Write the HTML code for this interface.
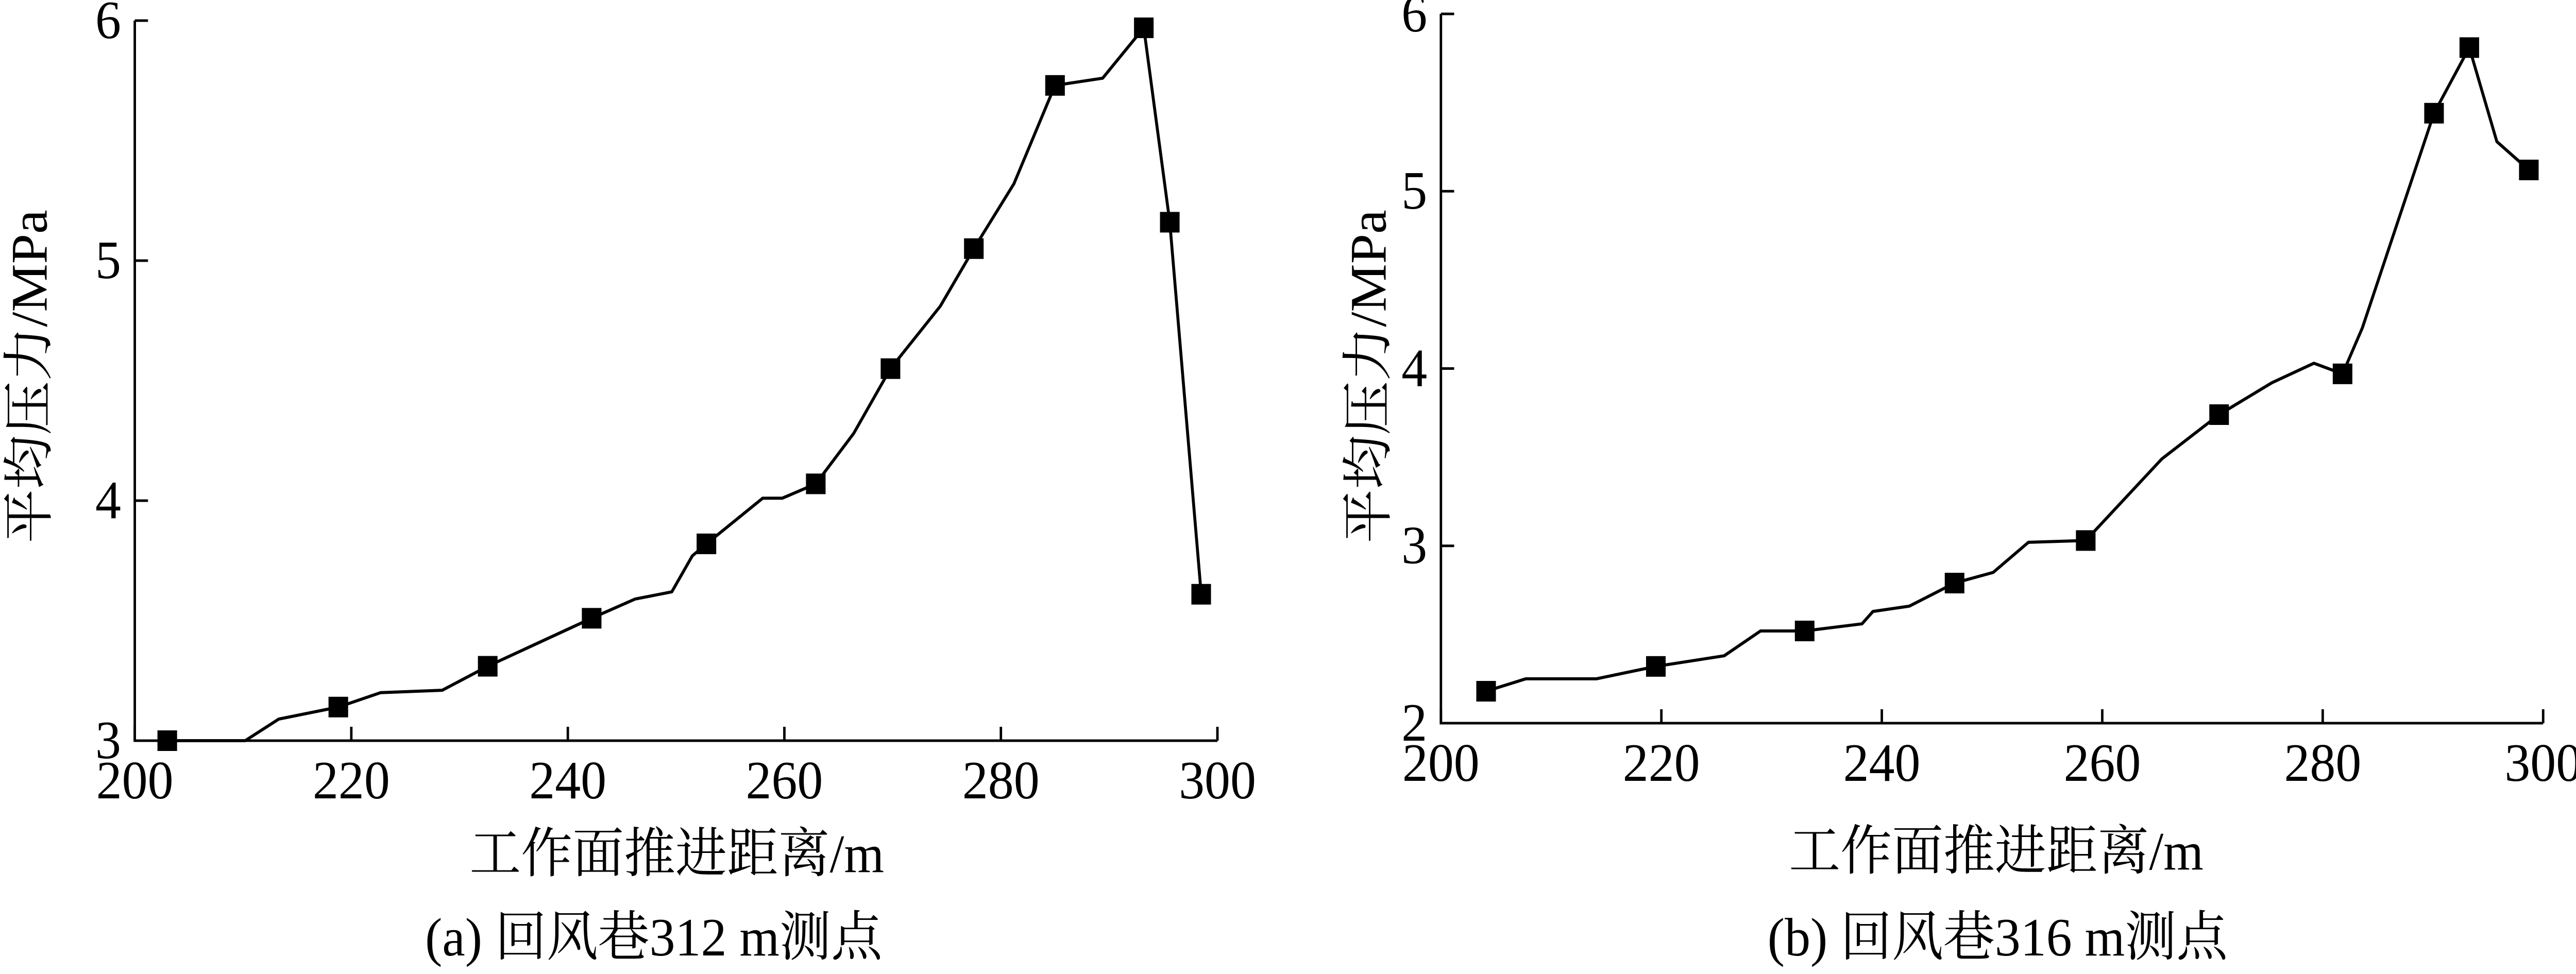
<!DOCTYPE html>
<html><head><meta charset="utf-8"><style>
html,body{margin:0;padding:0;background:#fff;overflow:hidden;width:100%;height:100%;}
svg{display:block;width:100vw;height:100vh;}
text{font-family:"Liberation Serif","Noto Serif CJK SC","Noto Sans CJK SC",serif;fill:#000;}
</style></head><body>
<svg id="chart" viewBox="0 0 5256 1891" preserveAspectRatio="none" xmlns="http://www.w3.org/2000/svg"></svg>
<script>
const xTicks = [200,220,240,260,280,300];
const yTicksA = [3,4,5,6];
const yTicksB = [2,3,4,5,6];
const xA = [203.0,210.2,213.3,218.8,222.7,228.4,232.6,242.2,246.2,249.6,251.5,252.8,258.0,259.8,262.9,266.4,269.8,274.4,277.5,281.2,285.0,289.4,293.2,295.6,298.5];
const yA = [3.0,3.0,3.09,3.14,3.20,3.21,3.31,3.51,3.59,3.62,3.77,3.82,4.01,4.01,4.07,4.28,4.55,4.81,5.05,5.32,5.73,5.76,5.97,5.16,3.61];
const mA = [1,0,0,1,0,0,1,1,0,0,0,1,0,0,1,0,1,0,1,0,1,0,1,1,1];
const xB = [204.1,207.7,214.1,219.5,225.7,229.0,233.0,238.2,239.2,242.5,246.6,250.1,253.3,258.5,265.4,270.6,275.4,279.2,281.8,283.6,290.1,293.3,295.8,298.7];
const yB = [2.18,2.25,2.25,2.32,2.38,2.52,2.52,2.56,2.63,2.66,2.79,2.85,3.02,3.03,3.49,3.74,3.92,4.03,3.97,4.23,5.44,5.81,5.28,5.12];
const mB = [1,0,0,1,0,0,1,0,0,0,1,0,0,1,0,1,0,0,1,0,1,1,0,1];

const NS='http://www.w3.org/2000/svg';
const svg=document.getElementById('chart');
function mk(tag,attrs,parent){const e=document.createElementNS(NS,tag);for(const k in attrs)e.setAttribute(k,attrs[k]);(parent||svg).appendChild(e);return e;}

function panel(cfg){
  const g=mk('g',{});
  
  
  const sx=v=>cfg.x0+(v-200)/100*(cfg.x1-cfg.x0);
  const sy=v=>cfg.yb-(v-cfg.ymin)/(cfg.ymax-cfg.ymin)*(cfg.yb-cfg.yt);
  const ax=mk('path',{d:`M${cfg.x0},${cfg.yt} L${cfg.x0},${cfg.yb} L${cfg.x1},${cfg.yb}`,fill:'none',stroke:'#000','stroke-width':5},g);
  
  
  xTicks.forEach(t=>{
    const x=sx(t);
    mk('line',{x1:x,y1:cfg.yb,x2:x,y2:cfg.yb-27,stroke:'#000','stroke-width':5},g);
    const tx=mk('text',{x:x,y:cfg.yb+112,'font-size':105,'text-anchor':'middle'},g);
    tx.textContent=t;
    
    
  });
  cfg.yTicks.forEach(t=>{
    const y=sy(t);
    mk('line',{x1:cfg.x0,y1:y,x2:cfg.x0+27,y2:y,stroke:'#000','stroke-width':5},g);
    const tx=mk('text',{x:cfg.x0-28,y:y+34,'font-size':105,'text-anchor':'end'},g);
    tx.textContent=t;
    
    
  });
  const pts=cfg.xs.map((v,i)=>sx(v).toFixed(1)+','+sy(cfg.ys[i]).toFixed(1)).join(' ');
  const pl=mk('polyline',{points:pts,fill:'none',stroke:'#000','stroke-width':6,'stroke-linejoin':'round'},g);
  
  
  cfg.xs.forEach((v,i)=>{
    if(!cfg.ms[i])return;
    const r=mk('rect',{x:sx(v)-20,y:sy(cfg.ys[i])-20,width:40,height:40,fill:'#000'},g);
    
    
  });
  const xt=mk('text',{x:cfg.xtx,y:cfg.xty,'font-size':105,'text-anchor':'middle'},g);
  xt.textContent='工作面推进距离/m';
  
  
  const yt=mk('text',{x:0,y:0,'font-size':105,'text-anchor':'middle',transform:`translate(${cfg.ytx},${cfg.yty}) rotate(-90)`},g);
  yt.textContent='平均压力/MPa';
  
  
  const cp=mk('text',{x:cfg.ctx,y:cfg.cty,'font-size':105,'text-anchor':'middle'},g);
  cp.textContent=cfg.caption;
  
  
}
panel({name:'panel-a',x0:275,x1:2484,yt:40,yb:1438,ymin:3,ymax:6,yTicks:yTicksA,xs:xA,ys:yA,ms:mA,
  xtx:1381,xty:1693,ytx:95,yty:731,ctx:1334,cty:1855,caption:'(a)  回风巷312 m测点'});
panel({name:'panel-b',x0:2940,x1:5189,yt:27,yb:1404,ymin:2,ymax:6,yTicks:yTicksB,xs:xB,ys:yB,ms:mB,
  xtx:4073,xty:1688,ytx:2827,yty:731,ctx:4076,cty:1855,caption:'(b)  回风巷316 m测点'});
</script>
</body></html>
